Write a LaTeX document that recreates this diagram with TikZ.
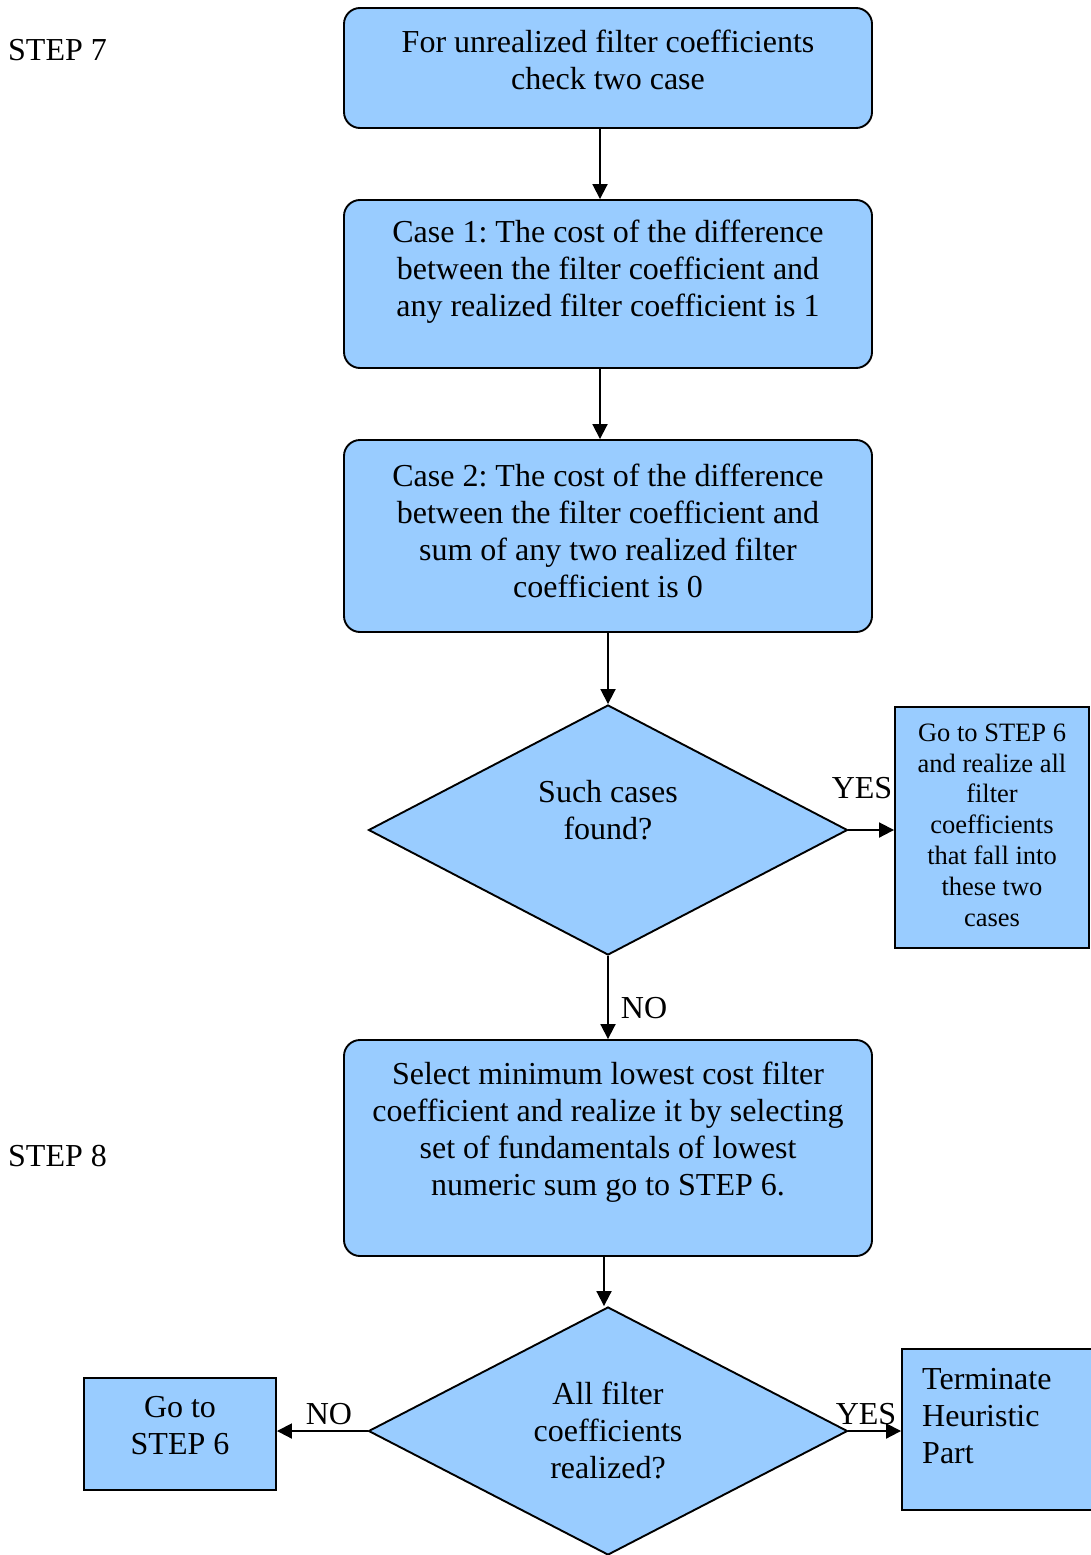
\documentclass[tikz,border=0pt]{standalone}
\usepackage{fontspec}
\setmainfont{Liberation Serif}
\newfontfamily\tnr{Liberation Serif}
\frenchspacing
\usetikzlibrary{arrows.meta,shapes.geometric}
\definecolor{boxblue}{HTML}{99CCFF}
\tikzset{
  every node/.style={font=\tnr\fontsize{32}{37}\selectfont},
  shape box/.style={draw=black, line width=1.9pt, fill=boxblue, inner sep=0pt},
  roundbox/.style={shape box, rectangle, rounded corners=16pt},
  plainbox/.style={shape box, rectangle},
  decision/.style={shape box, diamond},
  txt/.style={align=center, inner sep=0pt},
  smalltxt/.style={align=center, inner sep=0pt, font=\tnr\fontsize{26.5}{30.8}\selectfont},
  flow/.style={line width=1.9pt, -{Triangle[length=15pt,width=15pt]}},
  lbl/.style={anchor=base, inner sep=0pt}
}
\begin{document}
\begin{tikzpicture}[x=1pt,y=-1pt]
\useasboundingbox (0,0) rectangle (1091,1555);

% step captions
\node[anchor=base west, inner sep=0pt] (s7) at (8,61) {STEP 7};
\node[anchor=base west, inner sep=0pt] (s8) at (8,1166) {STEP 8};

% process boxes
\node[roundbox, minimum width=528, minimum height=120] (b1) at (608,68) {};
\node[txt] (t1) at (608,60) {For unrealized filter coefficients\\check two case};

\node[roundbox, minimum width=528, minimum height=168] (b2) at (608,284) {};
\node[txt] (t2) at (608,272) {Case 1: The cost of the difference\\between the filter coefficient and\\any realized filter coefficient is 1};

\node[roundbox, minimum width=528, minimum height=192] (b3) at (608,536) {};
\node[txt] (t3) at (608,531) {Case 2: The cost of the difference\\between the filter coefficient and\\sum of any two realized filter\\coefficient is 0};

% first decision
\node[decision, minimum width=479, minimum height=250] (d1) at (608,830) {};
\node[txt] (td1) at (608,810) {Such cases\\found?};

\node[plainbox, minimum width=194, minimum height=241] (g1) at (992,827.5) {};
\node[smalltxt] (tg1) at (992,825) {Go to STEP 6\\and realize all\\filter\\coefficients\\that fall into\\these two\\cases};

\node[roundbox, minimum width=528, minimum height=216] (b4) at (608,1148) {};
\node[txt] (t4) at (608,1132) {Select minimum lowest cost filter\\coefficient and realize it by selecting\\set of fundamentals of lowest\\numeric sum go to STEP 6.};

% second decision
\node[decision, minimum width=479, minimum height=248] (d2) at (608,1431) {};
\node[txt] (td2) at (608,1430) {All filter\\coefficients\\realized?};

\node[plainbox, minimum width=192, minimum height=112] (g2) at (180,1434) {};
\node[txt] (tg2) at (180,1426) {Go to\\STEP 6};

\node[plainbox, minimum width=192, minimum height=161] (tm) at (998,1429.5) {};
\node[txt, align=left, anchor=west] (ttm) at (922,1416) {Terminate\\Heuristic\\Part};

% connectors
\draw[flow] ([xshift=-8pt]b1.south) -- ([xshift=-8pt]b2.north);
\draw[flow] ([xshift=-8pt]b2.south) -- ([xshift=-8pt]b3.north);
\draw[flow] (b3.south) -- (d1.north);
\draw[flow] (d1.east) -- (g1.west |- d1.east);
\draw[flow] (d1.south) -- (b4.north);
\draw[flow] ([xshift=-4pt]b4.south) -- ([xshift=-4pt]d2.north);
\draw[flow] (d2.west) -- (g2.east |- d2.west);
\draw[flow] (d2.east) -- (tm.west |- d2.east);

% branch labels
\node[lbl] (y1) at (862,798) {YES};
\node[lbl] (n1) at (644,1018) {NO};
\node[lbl] (n2) at (329,1424) {NO};
\node[lbl] (y2) at (866,1424) {YES};
\end{tikzpicture}
\end{document}
